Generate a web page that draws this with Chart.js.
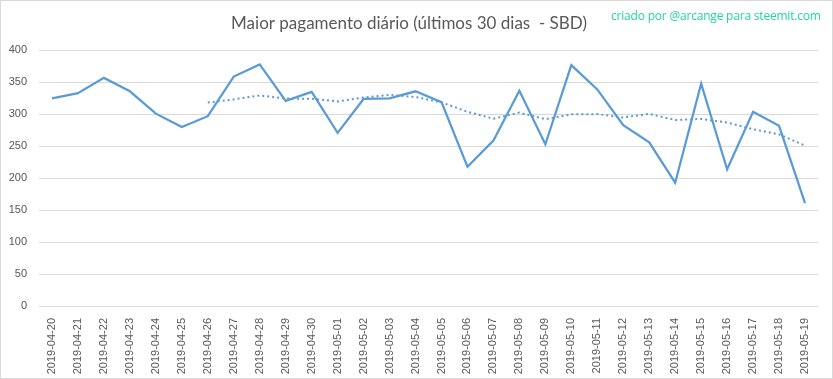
<!DOCTYPE html>
<html>
<head>
<meta charset="utf-8">
<script src="https://cdn.jsdelivr.net/npm/chart.js@4/dist/chart.umd.min.js"></script>
<style>
  html, body { margin: 0; padding: 0; background: #fff; }
  #wrap { position: relative; width: 833px; height: 379px; box-sizing: border-box; border: 1px solid #d9d9d9; overflow: hidden; }
  #c { position: absolute; left: -1px; top: -1px; }
  #wm { position: absolute; left: 610px; top: 6px; font-family: "Open Sans", sans-serif; font-size: 12px; color: #22d4a0; white-space: nowrap; letter-spacing: -0.2px; }
</style>
</head>
<body>
<div id="wrap">
  <canvas id="c" width="833" height="379"></canvas>
  <div id="wm">criado por @arcange para steemit.com</div>
</div>
<script>
const titleText = "Maior pagamento diário (últimos 30 dias  - SBD)";
const categories = ["2019-04-20","2019-04-21","2019-04-22","2019-04-23","2019-04-24","2019-04-25","2019-04-26","2019-04-27","2019-04-28","2019-04-29","2019-04-30","2019-05-01","2019-05-02","2019-05-03","2019-05-04","2019-05-05","2019-05-06","2019-05-07","2019-05-08","2019-05-09","2019-05-10","2019-05-11","2019-05-12","2019-05-13","2019-05-14","2019-05-15","2019-05-16","2019-05-17","2019-05-18","2019-05-19"];
const payouts = [325,333,357,336,301,280,297,359,378,321,335,271,324,325,336,319,218,259,337,253,377,339,283,256,193,348,214,304,282,161];
const trend = [null,null,null,null,null,null,318.4,323.3,329.7,324.6,324.4,320.1,326.4,330.4,327.1,318.7,304.0,293.1,302.6,292.4,299.9,300.3,295.1,300.6,291.1,292.7,287.1,276.7,268.6,251.1];
const yTicks = [0,50,100,150,200,250,300,350,400];

const color = "#5b9bd5";
new Chart(document.getElementById("c"), {
  type: "line",
  data: {
    labels: categories,
    datasets: [
      { data: payouts, borderColor: color, borderWidth: 2.25, pointRadius: 0, tension: 0, fill: false },
      { data: trend, borderColor: color, borderWidth: 2, borderDash: [2, 3], pointRadius: 0, tension: 0, fill: false, spanGaps: false }
    ]
  },
  options: {
    responsive: false,
    animation: false,
    devicePixelRatio: 1,
    layout: { padding: { left: 0, right: 15, top: 0, bottom: 0 } },
    plugins: {
      legend: { display: false },
      tooltip: { enabled: false },
      title: {
        display: true,
        text: titleText,
        color: "#595959",
        font: { family: "Lato", size: 17, weight: "normal" },
        padding: { top: 13, bottom: 17 }
      }
    },
    scales: {
      x: {
        offset: true,
        grid: { display: false },
        border: { display: false },
        ticks: {
          autoSkip: false, maxRotation: 90, minRotation: 90,
          color: "#595959", font: { family: "Liberation Sans", size: 11 }, padding: 4
        },
        afterFit: s => { s.height = 73; }
      },
      y: {
        min: 0, max: 400,
        afterBuildTicks: s => { s.ticks = yTicks.map(v => ({ value: v })); },
        grid: { color: "#d9d9d9", lineWidth: 1, drawTicks: false },
        border: { display: false },
        ticks: { color: "#595959", font: { family: "Liberation Sans", size: 11 }, padding: 12 },
        afterFit: s => { s.width = 39; }
      }
    }
  }
});
</script>
</body>
</html>
